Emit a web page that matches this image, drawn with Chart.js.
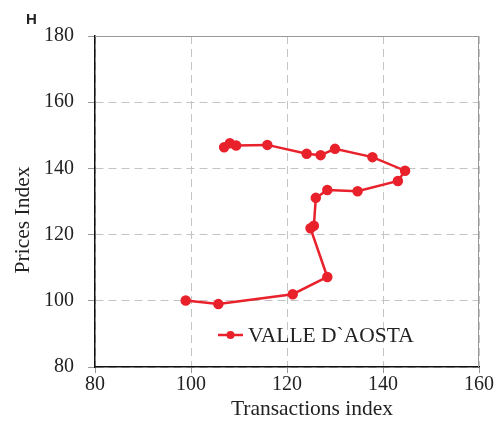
<!DOCTYPE html>
<html>
<head>
<meta charset="utf-8">
<script src="https://cdn.jsdelivr.net/npm/chart.js@4.4.0/dist/chart.umd.min.js"></script>
<style>
  html, body { margin: 0; padding: 0; background: #fff; }
  #wrap { width: 504px; height: 425px; position: relative; }
</style>
</head>
<body>
<div id="wrap"><canvas id="chart"></canvas></div>
<script>
// VALLE D`AOSTA path (transactions index vs prices index)
const seriesName = "VALLE D`AOSTA";
const transactions = [98.9, 105.7, 121.2, 128.4, 124.9, 125.6, 126.0, 128.4, 134.7, 143.1, 144.6, 137.8, 130.0, 127.0, 124.1, 115.9, 109.4, 108.1, 106.9];
const prices = [100.1, 99.0, 102.0, 107.2, 121.9, 122.7, 131.1, 133.5, 133.1, 136.2, 139.3, 143.4, 145.9, 144.0, 144.4, 147.1, 146.9, 147.6, 146.4];
const xTicks = [80, 100, 120, 140, 160];
const yTicks = [80, 100, 120, 140, 160, 180];

const red = '#e8212b';
const serif = '"Liberation Serif", "Times New Roman", serif';

const points = transactions.map((x, i) => ({ x: x, y: prices[i] }));

// extra texts, frame and legend
const decor = {
    id: 'decor',
    afterDraw(chart) {
        const c = chart.ctx;
        const a = chart.chartArea;
        c.save();
        // top / right frame in grey
        c.strokeStyle = '#999';
        c.lineWidth = 1;
        c.beginPath();
        c.moveTo(a.left, a.top + 0.5);
        c.lineTo(a.right - 0.5, a.top + 0.5);
        c.lineTo(a.right - 0.5, a.bottom);
        c.stroke();

        // panel letter
        c.fillStyle = '#222';
        c.font = 'bold 15px "Liberation Sans", Arial, sans-serif';
        c.textBaseline = 'alphabetic';
        c.textAlign = 'left';
        c.fillText('H', 26, 24);

        // axis titles
        c.font = '21.5px ' + serif;
        c.textAlign = 'center';
        c.fillText('Transactions index', 312, 415);
        c.save();
        c.translate(29, 220);
        c.rotate(-Math.PI / 2);
        c.fillText('Prices Index', 0, 0);
        c.restore();

        // legend
        c.strokeStyle = red;
        c.lineWidth = 2.5;
        c.beginPath();
        c.moveTo(218, 335);
        c.lineTo(243, 335);
        c.stroke();
        c.fillStyle = red;
        c.beginPath();
        c.arc(230.5, 335, 4, 0, Math.PI * 2);
        c.fill();
        c.fillStyle = '#222';
        c.textAlign = 'left';
        c.fillText(seriesName, 248, 342);
        c.restore();
    }
};

new Chart(document.getElementById('chart'), {
    type: 'scatter',
    data: {
        datasets: [{
            label: seriesName,
            data: points,
            showLine: true,
            borderColor: red,
            backgroundColor: red,
            borderWidth: 2.5,
            pointRadius: 4,
            pointHoverRadius: 4,
            tension: 0
        }]
    },
    options: {
        responsive: true,
        maintainAspectRatio: false,
        animation: false,
        layout: { padding: { top: 36, right: 25, left: 0, bottom: 0 } },
        plugins: {
            legend: { display: false },
            tooltip: { enabled: false }
        },
        scales: {
            x: {
                type: 'linear',
                min: 80,
                max: 160,
                afterBuildTicks: (s) => { s.ticks = xTicks.map(v => ({ value: v })); },
                afterFit: (s) => { s.height = 58; },
                ticks: {
                    color: '#222',
                    font: { family: serif, size: 20 },
                    padding: 0,
                    maxRotation: 0
                },
                grid: {
                    color: '#c4c4c4',
                    tickLength: 6,
                    tickColor: '#999',
                    tickBorderDash: []
                },
                border: { color: '#111', width: 1.5, dash: [8, 5] }
            },
            y: {
                type: 'linear',
                min: 80,
                max: 180,
                afterBuildTicks: (s) => { s.ticks = yTicks.map(v => ({ value: v })); },
                afterFit: (s) => { s.width = 95; },
                ticks: {
                    color: '#222',
                    font: { family: serif, size: 20 },
                    padding: 14
                },
                grid: {
                    color: '#c4c4c4',
                    tickLength: 7,
                    tickColor: '#999',
                    tickBorderDash: []
                },
                border: { color: '#111', width: 1.5, dash: [8, 5] }
            }
        }
    },
    plugins: [decor]
});
</script>
</body>
</html>
